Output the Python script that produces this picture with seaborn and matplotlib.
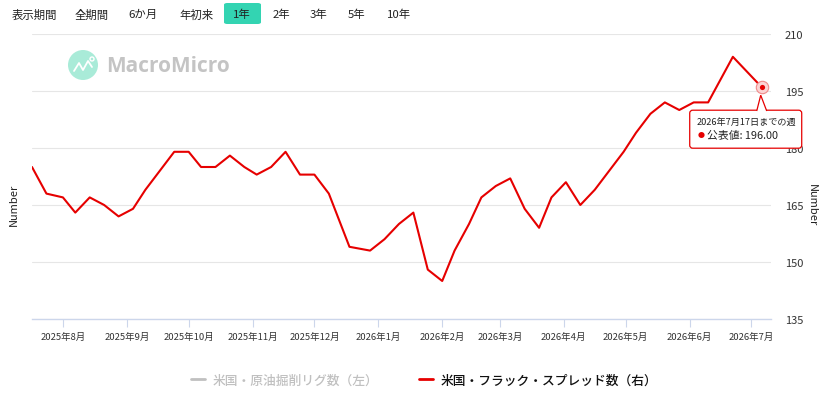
import matplotlib
matplotlib.use("Agg")
import matplotlib.pyplot as plt
import matplotlib.dates as mdates
from matplotlib.ticker import FuncFormatter
from matplotlib.lines import Line2D
from matplotlib.patches import FancyBboxPatch, Polygon, Ellipse
from matplotlib.transforms import IdentityTransform
import pandas as pd
import seaborn as sns

# weekly frac spread count (right axis)
dates = [
    "2025-07-17", "2025-07-24", "2025-08-01", "2025-08-07", "2025-08-14",
    "2025-08-21", "2025-08-28", "2025-09-04", "2025-09-10", "2025-09-17",
    "2025-09-24", "2025-10-01", "2025-10-07", "2025-10-14", "2025-10-21",
    "2025-10-28", "2025-11-03", "2025-11-10", "2025-11-17", "2025-11-24",
    "2025-12-01", "2025-12-08", "2025-12-18", "2025-12-28", "2026-01-04",
    "2026-01-11", "2026-01-18", "2026-01-25", "2026-02-01", "2026-02-07",
    "2026-02-14", "2026-02-20", "2026-02-27", "2026-03-06", "2026-03-13",
    "2026-03-20", "2026-03-26", "2026-04-02", "2026-04-09", "2026-04-16",
    "2026-04-23", "2026-04-30", "2026-05-06", "2026-05-13", "2026-05-20",
    "2026-05-27", "2026-06-03", "2026-06-10", "2026-06-16", "2026-06-22",
    "2026-06-29", "2026-07-06",
]
frac_spread = [
    175, 168, 167, 163, 167, 165, 162, 164, 169, 174,
    179, 179, 175, 175, 178, 175, 173, 175, 179, 173,
    173, 168, 154, 153, 156, 160, 163, 148, 145, 153,
    160, 167, 170, 172, 164, 159, 167, 171, 165, 169,
    174, 179, 184, 189, 192, 190, 192, 192, 198, 204,
    200, 196,
]
y_ticks = [135, 150, 165, 180, 195, 210]
range_buttons = ["表示期間", "全期間", "6か月", "年初来", "1年", "2年", "3年", "5年", "10年"]
button_x = [34, 92, 143, 196, 242, 281, 319, 357, 399]
legend_labels = ["米国・原油掘削リグ数（左）", "米国・フラック・スプレッド数（右）"]
tooltip_title = "2026年7月17日までの週"
tooltip_value = "公表値: 196.00"

RED = "#e60000"
GRID = "#e6e6e6"
W, H = 820, 406

df = pd.DataFrame({"date": pd.to_datetime(dates), "value": frac_spread})

sns.set_theme(style="white")
plt.rcParams["font.family"] = ["Noto Sans CJK JP", "DejaVu Sans"]

fig = plt.figure(figsize=(W / 100, H / 100), dpi=100)
fig.patch.set_facecolor("white")


def fx(x):
    return x / W


def fy(y):
    return 1 - y / H


ax = fig.add_axes([fx(32), fy(320), (771 - 32) / W, 285 / H])
ax2 = ax.twinx()

sns.lineplot(data=df, x="date", y="value", ax=ax2, color=RED, linewidth=1.5)

# hovered point with halo
last = df.tail(1)
sns.scatterplot(data=last, x="date", y="value", ax=ax2, s=80, color="#fbd3d3",
                edgecolor="#f08a8a", linewidth=0.8, zorder=5, legend=False)
sns.scatterplot(data=last, x="date", y="value", ax=ax2, s=14, color=RED,
                edgecolor=RED, linewidth=0, zorder=6, legend=False)

ax.set_xlim(pd.Timestamp("2025-07-17"), pd.Timestamp("2026-07-10 12:00"))
ax2.set_ylim(135, 210)
ax2.set_yticks(y_ticks)
ax2.grid(axis="y", color=GRID, linewidth=0.8)
ax2.grid(axis="x", visible=False)
ax.grid(False)
ax.set_yticks([])

for a in (ax, ax2):
    for s in ["top", "left", "right"]:
        a.spines[s].set_visible(False)
ax2.spines["bottom"].set_visible(False)
ax.spines["bottom"].set_color("#ccd6eb")
ax.spines["bottom"].set_linewidth(1)

ax.xaxis.set_major_locator(mdates.MonthLocator())
ax.xaxis.set_major_formatter(FuncFormatter(
    lambda v, pos: f"{mdates.num2date(v).year}年{mdates.num2date(v).month}月"))
ax.tick_params(axis="x", bottom=True, length=6, width=0.8, color="#ccd6eb",
               labelsize=6.8, pad=3.5, labelcolor="#333333")
ax2.tick_params(axis="y", right=True, length=0, labelsize=8, pad=10, labelcolor="#333333")
ax.set_xlabel("")
ax.set_ylabel("")
ax2.set_xlabel("")
ax2.set_ylabel("")

fig.text(fx(14), fy(205), "Number", rotation=90, fontsize=8, color="#222222",
         ha="center", va="center")
fig.text(fx(812), fy(205), "Number", rotation=270, fontsize=8, color="#222222",
         ha="center", va="center")

# tooltip anchored to the last point (display pixels)
px, py = ax2.transData.transform((mdates.date2num(last["date"].iloc[0]), last["value"].iloc[0]))
box = FancyBboxPatch((px - 72, py - 61), 112, 38,
                     boxstyle="round,pad=0,rounding_size=3",
                     facecolor="white", edgecolor=RED, linewidth=0.9,
                     transform=IdentityTransform(), zorder=10)
fig.add_artist(box)
pointer = Polygon([(px - 5, py - 23.8), (px - 1, py - 8), (px + 5, py - 23.8)],
                  closed=False, facecolor="white", edgecolor=RED, linewidth=0.9,
                  transform=IdentityTransform(), zorder=11)
fig.add_artist(pointer)
fig.text((px - 65) / W, (py - 35) / H, tooltip_title, fontsize=6.6, color="#222222",
         ha="left", va="center", zorder=12)
fig.text((px - 61) / W, (py - 48) / H, "●", fontsize=5, color=RED,
         ha="center", va="center", zorder=12)
fig.text((px - 55) / W, (py - 48) / H, tooltip_value, fontsize=7.8, color="#222222",
         ha="left", va="center", zorder=12)

# watermark
fig.add_artist(Ellipse((fx(83), fy(66)), 30 / W, 30 / H, facecolor="#a9ebd8",
                       edgecolor="none", transform=fig.transFigure))
zig = [(74, 72), (79, 64), (83, 71), (88, 62), (92, 68)]
fig.add_artist(Line2D([fx(p[0]) for p in zig], [fy(p[1]) for p in zig], color="white",
                      linewidth=1.3, transform=fig.transFigure))
fig.add_artist(Ellipse((fx(92), fy(60)), 4 / W, 4 / H, facecolor="none", edgecolor="white",
                       linewidth=1, transform=fig.transFigure))
fig.text(fx(106), fy(66), "MacroMicro", fontsize=15, fontweight="bold", color="#c4c4c4",
         family=["Open Sans", "DejaVu Sans"], ha="left", va="center")

# range selector buttons
sel = FancyBboxPatch((fx(224), fy(25)), 37 / W, 21 / H,
                     boxstyle="round,pad=0,rounding_size=0.004",
                     facecolor="#33d4b2", edgecolor="none", transform=fig.transFigure)
fig.add_artist(sel)
for lbl, bx in zip(range_buttons, button_x):
    fig.text(fx(bx), fy(15), lbl, fontsize=8.2, color="#222222", ha="center", va="center")

# legend
handles = [Line2D([], [], color="#c0c0c0", linewidth=2),
           Line2D([], [], color=RED, linewidth=2)]
leg = fig.legend(handles, legend_labels, loc="center", bbox_to_anchor=(fx(424), fy(381)),
                 ncol=2, frameon=False, handlelength=1.1,
                 handletextpad=0.6, columnspacing=3.2,
                 prop={"weight": "medium", "size": 9.2})
leg.get_texts()[0].set_color("#c0c0c0")
leg.get_texts()[1].set_color("#111111")

fig.savefig("out.png", dpi=100, facecolor="white")
